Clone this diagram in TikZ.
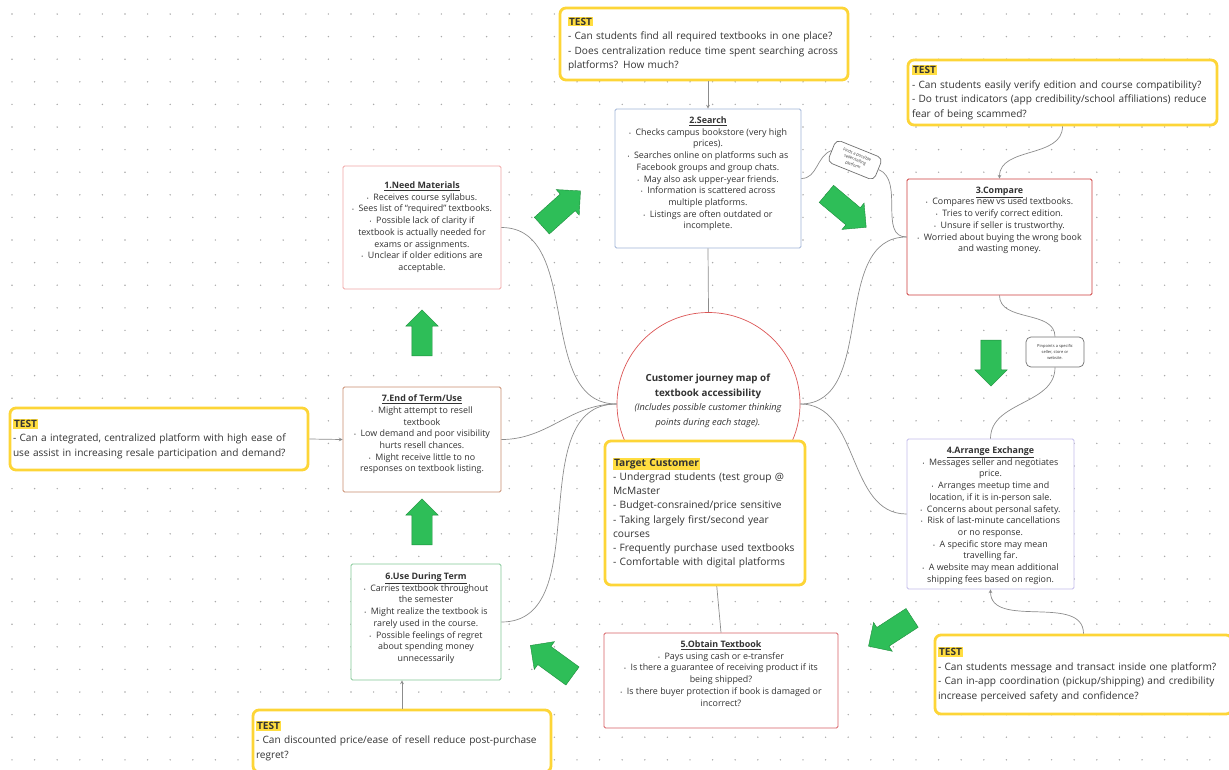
\documentclass[tikz,border=0pt]{standalone}
\usepackage{fontspec}
\setmainfont{Open Sans}
\usepackage{tikz}
\usetikzlibrary{arrows}
\usetikzlibrary{positioning}
\usetikzlibrary{shapes.arrows}

\definecolor{testyellow}{RGB}{253,213,55}
\definecolor{hiyellow}{RGB}{255,221,64}
\definecolor{inkgray}{RGB}{51,51,51}
\definecolor{linegray}{RGB}{140,140,140}
\definecolor{dotgray}{RGB}{170,170,170}
\definecolor{arrowgreen}{RGB}{46,190,88}
\definecolor{arrowedge}{RGB}{30,140,60}
\definecolor{needred}{RGB}{240,165,165}
\definecolor{searchblue}{RGB}{160,180,215}
\definecolor{comparered}{RGB}{205,60,60}
\definecolor{arrangepurple}{RGB}{195,188,235}
\definecolor{obtainred}{RGB}{215,95,100}
\definecolor{usegreen}{RGB}{130,200,150}
\definecolor{endbrown}{RGB}{200,140,110}
\definecolor{circlered}{RGB}{220,85,85}

\newcommand{\bul}{{\fontsize{5}{5}\selectfont\textbullet}\ \ }
\newcommand{\testtag}{{\setlength{\fboxsep}{1pt}\colorbox{hiyellow}{\textbf{TEST}}}}

\begin{document}
\begin{tikzpicture}[x=1pt,y=1pt,>=stealth,
  stage/.style={draw=#1, line width=0.8pt, rounded corners=1.5pt, fill=white, inner sep=0pt},
  stagetext/.style={inner sep=0pt, align=center, text=inkgray, font=\fontsize{8.9}{11.7}\selectfont},
  testbox/.style={draw=testyellow, line width=2.8pt, rounded corners=6pt, fill=white, align=left, text=inkgray, inner sep=0pt, font=\fontsize{10.1}{14.5}\selectfont},
  greenarrow/.style={single arrow, draw=arrowedge, fill=arrowgreen, line width=0.4pt, inner xsep=0pt, inner ysep=10pt, single arrow head extend=6pt, minimum height=46pt},
  link/.style={draw=linegray, line width=0.7pt},
  note/.style={draw=linegray!80!black, line width=0.7pt, rounded corners=5pt, fill=white, align=center, inner sep=2pt, text=inkgray, font=\fontsize{4}{5.6}\selectfont}]
\useasboundingbox (0,0) rectangle (1229,-769);
\clip (0,0) rectangle (1229,-769);
% dotted canvas
\foreach \gx in {0,...,54}
  \foreach \gy in {0,...,34}
    \fill[dotgray] (12+22.6*\gx,-14-22.6*\gy) circle (0.8pt);

% stages
\node[stage=needred, minimum width=158pt, minimum height=123pt] (needmat) at (422,-227.5) {};
\node[stagetext, below=16pt of needmat.north] (needmattext) {\underline{\textbf{1.Need Materials}}\\
  \bul Receives course syllabus.\\
  \bul Sees list of ``required'' textbooks.\\
  \bul Possible lack of clarity if\\
  textbook is actually needed for\\
  exams or assignments.\\
  \bul Unclear if older editions are\\
  acceptable.};

\node[stage=searchblue, minimum width=186pt, minimum height=139pt] (search) at (708,-178.5) {};
\node[stagetext, below=8pt of search.north] (searchtext) {\underline{\textbf{2.Search}}\\
  \bul Checks campus bookstore (very high\\
  prices).\\
  \bul Searches online on platforms such as\\
  Facebook groups and group chats.\\
  \bul May also ask upper-year friends.\\
  \bul Information is scattered across\\
  multiple platforms.\\
  \bul Listings are often outdated or\\
  incomplete.};

\node[stage=comparered, minimum width=185pt, minimum height=116pt] (compare) at (999.5,-237) {};
\node[stagetext, below=8pt of compare.north] (comparetext) {\underline{\textbf{3.Compare}}\\
  \bul Compares new vs used textbooks.\\
  \bul Tries to verify correct edition.\\
  \bul Unsure if seller is trustworthy.\\
  \bul Worried about buying the wrong book\\
  and wasting money.};

\node[stage=arrangepurple, minimum width=167pt, minimum height=150pt] (arrange) at (990.5,-514) {};
\node[stagetext, below=8pt of arrange.north] (arrangetext) {\underline{\textbf{4.Arrange Exchange}}\\
  \bul Messages seller and negotiates\\
  price.\\
  \bul Arranges meetup time and\\
  location, if it is in-person sale.\\
  \bul Concerns about personal safety.\\
  \bul Risk of last-minute cancellations\\
  or no response.\\
  \bul A specific store may mean\\
  travelling far.\\
  \bul A website may mean additional\\
  shipping fees based on region.};

\node[stage=obtainred, minimum width=234pt, minimum height=95pt] (obtain) at (721,-680.5) {};
\node[stagetext, below=8pt of obtain.north] (obtaintext) {\underline{\textbf{5.Obtain Textbook}}\\
  \bul Pays using cash or e-transfer\\
  \bul Is there a guarantee of receiving product if its\\
  being shipped?\\
  \bul Is there buyer protection if book is damaged or\\
  incorrect?};

\node[stage=usegreen, minimum width=150pt, minimum height=116pt] (usedur) at (426,-622) {};
\node[stagetext, below=9pt of usedur.north] (usedurtext) {\underline{\textbf{6.Use During Term}}\\
  \bul Carries textbook throughout\\
  the semester\\
  \bul Might realize the textbook is\\
  rarely used in the course.\\
  \bul Possible feelings of regret\\
  about spending money\\
  unnecessarily};

\node[stage=endbrown, minimum width=158pt, minimum height=105pt] (endterm) at (422,-439.5) {};
\node[stagetext, below=8pt of endterm.north] (endtermtext) {\underline{\textbf{7.End of Term/Use}}\\
  \bul Might attempt to resell\\
  textbook\\
  \bul Low demand and poor visibility\\
  hurts resell chances.\\
  \bul Might receive little to no\\
  responses on textbook listing.};

% centre
\node[circle, draw=circlered, line width=0.7pt, fill=white, minimum size=183pt, inner sep=0pt] (journey) at (708.5,-404) {};
\node[align=center, text=inkgray, font=\fontsize{9.8}{14.5}\selectfont] (journeytext) at (708,-401)
  {\textbf{Customer journey map of}\\\textbf{textbook accessibility}\\
   {\fontsize{9.2}{14.5}\selectfont\itshape (Includes possible customer thinking}\\
   {\fontsize{9.2}{14.5}\selectfont\itshape points during each stage).}};

% tests
\node[testbox, minimum width=288pt, minimum height=72pt, text width=272pt] (testsearch) at (704,-44) {\testtag\\
  - Can students find all required textbooks in one place?\\
  - Does centralization reduce time spent searching across\\
  platforms? How much?};
\node[testbox, minimum width=309pt, minimum height=65pt, text width=301pt] (testcompare) at (1062.5,-92.5) {\testtag\\
  - Can students easily verify edition and course compatibility?\\
  - Do trust indicators (app credibility/school affiliations) reduce\\
  fear of being scammed?};
\node[testbox, minimum width=298pt, minimum height=62pt, text width=292pt] (testend) at (159,-439) {\testtag\\
  - Can a integrated, centralized platform with high ease of\\
  use assist in increasing resale participation and demand?};
\node[testbox, minimum width=297pt, minimum height=79pt, text width=291pt] (testarrange) at (1083.5,-674.5) {\testtag\\
  - Can students message and transact inside one platform?\\
  - Can in-app coordination (pickup/shipping) and credibility\\
  increase perceived safety and confidence?};
\node[testbox, minimum width=298pt, minimum height=62pt, text width=292pt] (testuse) at (402,-741) {\testtag\\
  - Can discounted price/ease of resell reduce post-purchase\\
  regret?};

% side notes
\node[note, rotate=-22, minimum width=50pt, minimum height=24pt] (findnote) at (855,-160) {Finds a possible\\seller/selling\\platform};
\node[note, minimum width=58pt, minimum height=30pt] (pinnote) at (1055,-352) {Pinpoints a specific\\seller, store or\\website.};

% links
\draw[link] (needmat.east) to[out=0,in=180] (journey.west);
\draw[link] (endterm.east) to[out=0,in=180] (journey.west);
\draw[link] (usedur.east) to[out=0,in=180] (journey.west);
\draw[link] (compare.west) to[out=180,in=0] (journey.east);
\draw[link] (arrange.west) to[out=180,in=0] (journey.east);
\draw[link] (search.south) -- (journey.north);
\draw[link] (journey.south) -- (obtain.north);
\draw[link] (search.east) to[out=0,in=200] (findnote.west);
\draw[link] (findnote.east) to[out=-22,in=180] (compare.west);
\draw[link] (compare.south) to[out=-90,in=90] (pinnote.north);
\draw[link] (pinnote.south) to[out=-90,in=90] (arrange.north);
\draw[link,->] (search.north |- testsearch.south) -- (search.north);
\draw[link,->] (testcompare.south) to[out=-90,in=90] (compare.north);
\draw[link,->] (testarrange.north) to[out=90,in=-90] (arrange.south);
\draw[link,->] (testuse.north) -- (testuse.north |- usedur.south);
\draw[link,->] (testend.east) -- (endterm.west);

% target customer
\node[testbox, minimum width=200pt, minimum height=144pt, text width=184pt, font=\fontsize{10.2}{14.2}\selectfont] (target) at (705,-513)
  {{\setlength{\fboxsep}{1pt}\colorbox{hiyellow}{\textbf{Target Customer}}}\\
  - Undergrad students (test group @\\
  McMaster\\
  - Budget-consrained/price sensitive\\
  - Taking largely first/second year\\
  courses\\
  - Frequently purchase used textbooks\\
  - Comfortable with digital platforms};

% flow arrows
\node[greenarrow, rotate=42, minimum height=52pt, inner ysep=11pt] (go12) at (557,-212) {};
\node[greenarrow, rotate=-40, minimum height=52pt, inner ysep=11pt] (go23) at (842,-207) {};
\node[greenarrow, rotate=-90] (go34) at (991,-358) {};
\node[greenarrow, rotate=213, minimum height=52pt, inner ysep=11pt] (go45) at (895,-629) {};
\node[greenarrow, rotate=144, minimum height=52pt, inner ysep=11pt] (go56) at (556,-664) {};
\node[greenarrow, rotate=90] (go67) at (422,-527) {};
\node[greenarrow, rotate=90] (go71) at (422,-338) {};
\end{tikzpicture}
\end{document}
